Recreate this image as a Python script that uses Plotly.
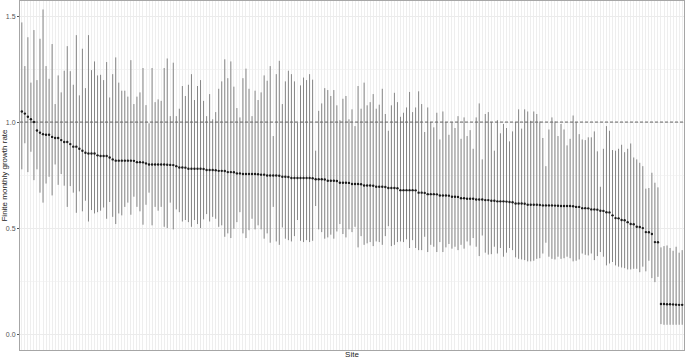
import plotly.graph_objects as go

# Site index (sorted by estimated growth rate)
sites = list(range(1, 220))

growth_rate = [
    1.05, 1.04, 1.025, 1.013, 1.0, 0.96, 0.95, 0.943, 0.94, 0.94,
    0.93, 0.925, 0.925, 0.915, 0.906, 0.906, 0.896, 0.884, 0.884, 0.874,
    0.865, 0.855, 0.852, 0.852, 0.852, 0.843, 0.84, 0.84, 0.84, 0.833,
    0.824, 0.818, 0.818, 0.818, 0.818, 0.818, 0.818, 0.817, 0.811, 0.811,
    0.81, 0.805, 0.80, 0.80, 0.80, 0.80, 0.80, 0.80, 0.799, 0.798,
    0.797, 0.792, 0.786, 0.786, 0.785, 0.78, 0.78, 0.78, 0.78, 0.78,
    0.779, 0.774, 0.774, 0.774, 0.773, 0.77, 0.77, 0.769, 0.764, 0.764,
    0.763, 0.758, 0.758, 0.755, 0.755, 0.755, 0.755, 0.755, 0.754, 0.752,
    0.752, 0.748, 0.748, 0.748, 0.748, 0.747, 0.742, 0.742, 0.741, 0.736,
    0.736, 0.736, 0.736, 0.736, 0.736, 0.736, 0.735, 0.73, 0.73, 0.73,
    0.729, 0.723, 0.723, 0.723, 0.722, 0.714, 0.714, 0.714, 0.713, 0.708,
    0.708, 0.708, 0.707, 0.701, 0.701, 0.701, 0.70, 0.695, 0.695, 0.695,
    0.694, 0.689, 0.689, 0.689, 0.688, 0.679, 0.679, 0.679, 0.679, 0.679,
    0.678, 0.667, 0.667, 0.666, 0.66, 0.66, 0.66, 0.659, 0.654, 0.654,
    0.654, 0.653, 0.648, 0.648, 0.647, 0.641, 0.641, 0.638, 0.638, 0.638,
    0.635, 0.635, 0.635, 0.632, 0.632, 0.629, 0.629, 0.626, 0.626, 0.626,
    0.625, 0.623, 0.622, 0.616, 0.616, 0.616, 0.615, 0.61, 0.61, 0.61,
    0.61, 0.609, 0.607, 0.607, 0.607, 0.607, 0.606, 0.605, 0.604, 0.604,
    0.604, 0.604, 0.603, 0.60, 0.60, 0.594, 0.594, 0.593, 0.588, 0.588,
    0.587, 0.582, 0.581, 0.575, 0.574, 0.56, 0.547, 0.546, 0.538, 0.537,
    0.528, 0.519, 0.518, 0.506, 0.505, 0.50, 0.481, 0.48, 0.472, 0.434,
    0.433, 0.142, 0.142, 0.141, 0.141, 0.140, 0.139, 0.138, 0.138,
]

upper = [
    1.47, 1.264, 1.40, 1.186, 1.434, 1.198, 1.393, 1.531, 1.264, 1.204,
    1.368, 1.085, 1.22, 1.14, 1.242, 1.358, 1.24, 1.176, 1.41, 1.126,
    1.346, 1.16, 1.41, 1.245, 1.286, 1.22, 1.223, 1.198, 1.283, 1.116,
    1.226, 1.305, 1.186, 1.148, 1.148, 1.12, 1.292, 1.085, 1.12, 1.14,
    1.255, 1.08, 0.994, 1.255, 1.094, 1.107, 1.10, 1.255, 1.30, 1.028,
    1.28, 1.028, 1.063, 1.17, 1.123, 1.176, 1.226, 1.104, 1.17, 1.198,
    1.10, 1.028, 1.132, 1.013, 1.047, 1.157, 1.192, 1.296, 1.207, 1.286,
    1.167, 1.066, 1.022, 1.207, 1.252, 1.157, 1.028, 1.148, 1.104, 1.14,
    1.22, 1.195, 1.264, 0.934, 1.226, 1.289, 1.085, 1.192, 1.242, 1.226,
    1.192, 0.997, 1.173, 1.21, 1.198, 1.226, 1.20, 0.865, 1.053, 1.088,
    1.16, 1.151, 1.123, 1.151, 1.079, 1.009, 1.11, 1.123, 1.013, 1.06,
    0.981, 1.17, 1.063, 1.186, 1.079, 1.094, 1.132, 1.063, 1.082, 1.157,
    1.038, 0.959, 1.079, 1.138, 1.094, 1.025, 1.044, 1.069, 1.142, 1.047,
    1.069, 1.145, 1.085, 0.953, 1.069, 1.0, 0.975, 1.044, 0.918, 1.05,
    1.0, 0.94, 1.0, 0.972, 1.028, 0.921, 1.022, 0.934, 0.962, 0.874,
    1.022, 1.088, 0.824, 1.038, 1.047, 1.0, 0.865, 1.009, 0.947, 0.991,
    0.972, 0.909, 0.956, 1.0, 1.06, 0.969, 1.06, 1.05, 1.006, 1.05,
    1.038, 1.003, 0.925, 0.792, 0.965, 1.022, 1.003, 0.934, 0.991, 0.965,
    0.89, 0.921, 1.031, 1.0, 0.943, 0.918, 0.915, 0.928, 0.928, 0.956,
    0.862, 0.695, 0.874, 0.981, 0.959, 0.868, 0.865, 0.874, 0.893, 0.858,
    0.874, 0.899, 0.833, 0.824, 0.808, 0.792, 0.686, 0.689, 0.761, 0.714,
    0.692, 0.409, 0.415, 0.418, 0.406, 0.393, 0.412, 0.384, 0.396,
]

lower = [
    0.777, 0.90, 0.764, 0.86, 0.726, 0.777, 0.667, 0.62, 0.71, 0.742,
    0.654, 0.80, 0.704, 0.755, 0.70, 0.60, 0.698, 0.667, 0.572, 0.673,
    0.579, 0.629, 0.531, 0.585, 0.569, 0.575, 0.582, 0.597, 0.544, 0.623,
    0.553, 0.519, 0.569, 0.56, 0.60, 0.62, 0.563, 0.648, 0.60, 0.579,
    0.516, 0.61, 0.667, 0.513, 0.60, 0.582, 0.60, 0.506, 0.50, 0.62,
    0.494, 0.588, 0.575, 0.531, 0.538, 0.528, 0.506, 0.538, 0.519, 0.50,
    0.541, 0.566, 0.531, 0.553, 0.544, 0.506, 0.513, 0.459, 0.475, 0.453,
    0.497, 0.528, 0.575, 0.475, 0.453, 0.49, 0.544, 0.494, 0.513, 0.494,
    0.45, 0.475, 0.431, 0.60, 0.437, 0.421, 0.503, 0.45, 0.443, 0.437,
    0.462, 0.538, 0.44, 0.434, 0.443, 0.434, 0.44, 0.604, 0.494, 0.481,
    0.45, 0.456, 0.469, 0.45, 0.484, 0.519, 0.472, 0.456, 0.494, 0.481,
    0.506, 0.409, 0.462, 0.421, 0.428, 0.434, 0.415, 0.437, 0.434, 0.421,
    0.462, 0.509, 0.415, 0.421, 0.434, 0.437, 0.434, 0.447, 0.406, 0.443,
    0.406, 0.396, 0.396, 0.459, 0.387, 0.421, 0.412, 0.387, 0.434, 0.387,
    0.409, 0.425, 0.403, 0.412, 0.396, 0.421, 0.403, 0.437, 0.418, 0.453,
    0.412, 0.368, 0.465, 0.384, 0.375, 0.377, 0.412, 0.38, 0.406, 0.365,
    0.384, 0.406, 0.396, 0.362, 0.355, 0.352, 0.349, 0.343, 0.343, 0.346,
    0.355, 0.358, 0.38, 0.431, 0.365, 0.355, 0.352, 0.365, 0.355, 0.358,
    0.365, 0.358, 0.343, 0.346, 0.352, 0.38, 0.374, 0.371, 0.38, 0.349,
    0.368, 0.387, 0.365, 0.324, 0.333, 0.34, 0.324, 0.318, 0.314, 0.311,
    0.305, 0.305, 0.308, 0.308, 0.292, 0.318, 0.296, 0.346, 0.264, 0.245,
    0.27, 0.047, 0.044, 0.044, 0.044, 0.044, 0.044, 0.044, 0.044,
]

y_ticks = [0.0, 0.5, 1.0, 1.5]
y_tick_labels = ["0.0", "0.5", "1.0", "1.5"]
reference_rate = 1.0

err_plus = [u - m for u, m in zip(upper, growth_rate)]
err_minus = [m - l for m, l in zip(growth_rate, lower)]

fig = go.Figure()
fig.add_trace(go.Scatter(
    x=sites, y=growth_rate, mode="markers",
    marker=dict(color="#1a1a1a", size=2.4, symbol="circle", line=dict(width=0)),
    error_y=dict(type="data", symmetric=False, array=err_plus, arrayminus=err_minus,
                 width=0, thickness=1, color="#858585"),
    showlegend=False, hoverinfo="skip",
))

fig.add_shape(type="line", xref="paper", x0=0, x1=1, yref="y",
              y0=reference_rate, y1=reference_rate,
              line=dict(color="#666666", width=1, dash="3px,2px"), layer="above")

fig.update_layout(
    width=685, height=360,
    margin=dict(l=20, r=1, t=1, b=10),
    paper_bgcolor="white", plot_bgcolor="white",
    font=dict(family="Liberation Sans, Arial, sans-serif", color="#333333"),
    xaxis=dict(
        range=[0.4, len(sites) + 0.6],
        tickvals=sites, showticklabels=False, ticks="",
        showgrid=True, gridcolor="#eeeeee", gridwidth=1,
        zeroline=False, showline=True, linecolor="#a6a6a6", linewidth=1, mirror=True,
        title=dict(text="Site", font=dict(size=8, color="#222222"), standoff=1),
        automargin=False,
    ),
    yaxis=dict(
        range=[-0.075, 1.571],
        tickvals=y_ticks, ticktext=y_tick_labels,
        tickfont=dict(size=7, color="#555555"),
        ticks="outside", ticklen=2, tickcolor="#555555",
        showgrid=True, gridcolor="#ebebeb", gridwidth=1,
        minor=dict(dtick=0.25, showgrid=True, gridcolor="#f5f5f5", gridwidth=1),
        zeroline=False, showline=True, linecolor="#a6a6a6", linewidth=1, mirror=True,
        title=dict(text="Finite monthly growth rate", font=dict(size=8, color="#222222"), standoff=2),
        automargin=False,
    ),
)

fig.write_html(
    "out.html",
    config={"displayModeBar": False, "staticPlot": True},
    post_script="document.body.style.margin='0';document.body.style.padding='0';",
)
